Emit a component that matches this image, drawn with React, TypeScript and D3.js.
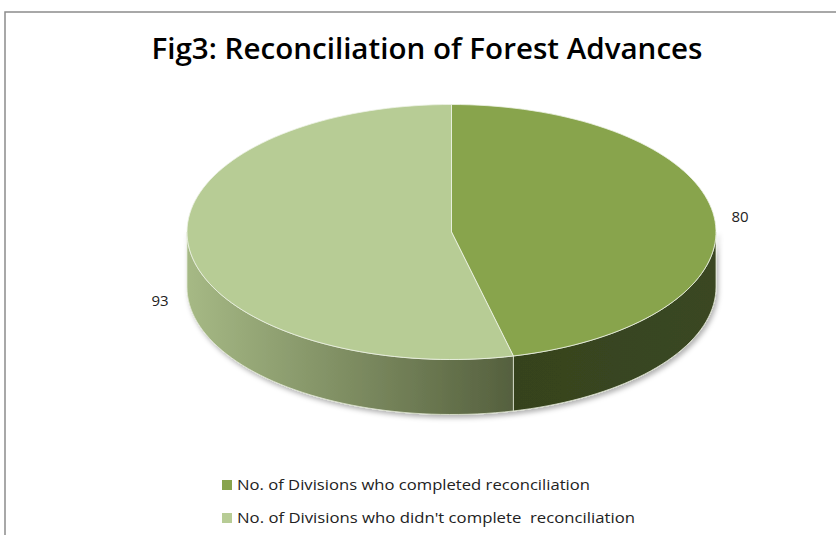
import React from 'react';
import * as d3 from 'd3';

const categories = [
  'No. of Divisions who completed reconciliation',
  "No. of Divisions who didn't complete  reconciliation",
];
const values = [80, 93];
const topColors = ['#88a44c', '#b7cc95'];
const title = 'Fig3: Reconciliation of Forest Advances';

const W = 836;
const H = 535;
const cx = 451.5;
const cy = 232;
const rx = 264.5;
const ry = 127.5;
const depth = 55;

// angle measured clockwise from 12 o'clock
const pt = (a: number, dy = 0): [number, number] => [cx + rx * Math.sin(a), cy - ry * Math.cos(a) + dy];

const arcPts = (a0: number, a1: number, dy = 0) => {
  const n = Math.max(2, Math.ceil(((a1 - a0) / Math.PI) * 90));
  return d3.range(n + 1).map((i) => pt(a0 + ((a1 - a0) * i) / n, dy));
};

const line = d3.line();

const App = () => {
  const arcs = d3.pie<number>().sort(null)(values);

  const tops = arcs.map((a) => {
    const pts = [[cx, cy] as [number, number], ...arcPts(a.startAngle, a.endAngle)];
    return line(pts) + 'Z';
  });

  const sides = arcs.map((a) => {
    const s = Math.max(a.startAngle, Math.PI / 2);
    const e = Math.min(a.endAngle, (3 * Math.PI) / 2);
    if (e <= s) return null;
    const upper = arcPts(s, e);
    const lower = arcPts(s, e, depth).reverse();
    return line([...upper, ...lower]) + 'Z';
  });

  const labelPos: [number, number][] = [
    [740, 222],
    [160, 306],
  ];

  return (
    <div style={{ position: 'absolute', left: 0, top: 0 }}>
      <svg width={W} height={H} style={{ display: 'block' }}>
        <defs>
          <linearGradient id="side1" x1="0" x2="1" y1="0" y2="0">
            <stop offset="0%" stopColor="#a6b985" />
            <stop offset="100%" stopColor="#55603e" />
          </linearGradient>
          <linearGradient id="side0" x1="0" x2="1" y1="0" y2="0">
            <stop offset="0%" stopColor="#36431e" />
            <stop offset="100%" stopColor="#3a4722" />
          </linearGradient>
          <filter id="shadow" x="-10%" y="-10%" width="120%" height="130%">
            <feDropShadow dx="2" dy="3" stdDeviation="2.5" floodColor="#000" floodOpacity="0.3" />
          </filter>
        </defs>
        <rect x={5} y={12} width={W + 10} height={H + 10} fill="#fff" stroke="#8c8c8c" strokeWidth={1.5} />
        <text
          x={427}
          y={59}
          textAnchor="middle"
          fontFamily="'Open Sans', 'Liberation Sans', sans-serif"
          fontWeight={600}
          fontSize={29}
          textLength={551}
          lengthAdjust="spacingAndGlyphs"
          fill="#000"
        >
          {title}
        </text>
        <g filter="url(#shadow)">
          {sides.map((d, i) =>
            d ? <path key={'s' + i} d={d} fill={`url(#side${i})`} stroke="#dfe6d2" strokeWidth={0.8} /> : null
          )}
        </g>
        {tops.map((d, i) => (
          <path key={'t' + i} d={d} fill={topColors[i]} stroke="#eef2e6" strokeWidth={0.8} />
        ))}
        {values.map((v, i) => (
          <text
            key={'l' + i}
            x={labelPos[i][0]}
            y={labelPos[i][1]}
            textAnchor="middle"
            fontFamily="'Open Sans', 'Liberation Sans', sans-serif"
            fontSize={15}
            fill="#222"
          >
            {v}
          </text>
        ))}
        {categories.map((c, i) => (
          <g key={'g' + i} transform={`translate(222,${480 + i * 33})`}>
            <rect x={0} y={0} width={10} height={10} fill={topColors[i]} />
            <text
              x={15}
              y={10}
              fontFamily="'Open Sans', 'Liberation Sans', sans-serif"
              fontSize={15}
              fill="#222"
              textLength={i === 0 ? 353 : 398}
              lengthAdjust="spacingAndGlyphs"
              style={{ whiteSpace: 'pre' }}
            >
              {c}
            </text>
          </g>
        ))}
      </svg>
    </div>
  );
};

export default App;
